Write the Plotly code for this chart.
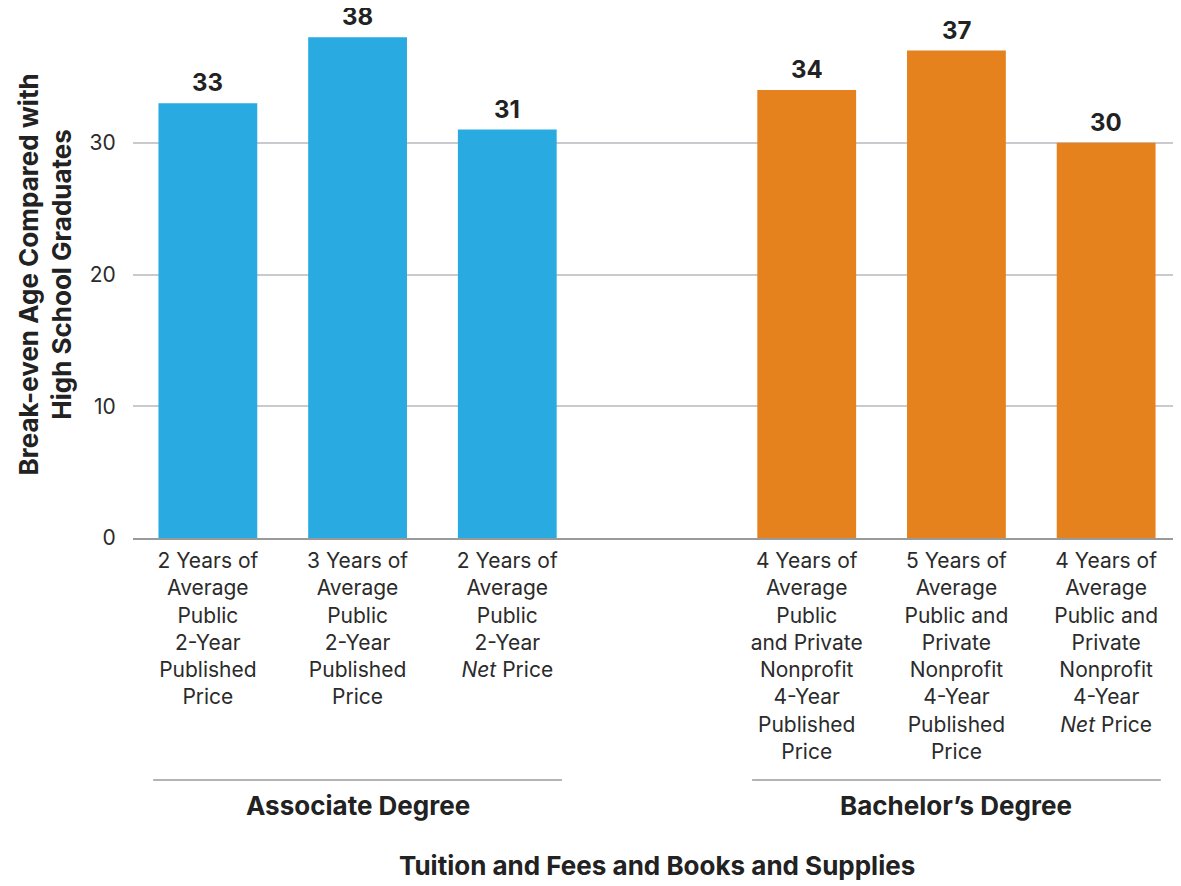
import plotly.graph_objects as go

# ---- data ----
assoc_categories = [
    "2 Years of<br>Average<br>Public<br>2-Year<br>Published<br>Price",
    "3 Years of<br>Average<br>Public<br>2-Year<br>Published<br>Price",
    "2 Years of<br>Average<br>Public<br>2-Year<br><i>Net</i> Price",
]
assoc_values = [33, 38, 31]

bach_categories = [
    "4 Years of<br>Average<br>Public<br>and Private<br>Nonprofit<br>4-Year<br>Published<br>Price",
    "5 Years of<br>Average<br>Public and<br>Private<br>Nonprofit<br>4-Year<br>Published<br>Price",
    "4 Years of<br>Average<br>Public and<br>Private<br>Nonprofit<br>4-Year<br><i>Net</i> Price",
]
bach_values = [34, 37, 30]

group_names = ["Associate Degree", "Bachelor’s Degree"]
spacer = " "
y_tick_values = [0, 10, 20, 30]
y_title = "Break-even Age Compared with<br>High School Graduates"
x_title = "Tuition and Fees and Books and Supplies"

# ---- style ----
FONT = "Inter"
BLUE = "#29ABE2"
ORANGE = "#E6821E"
TEXT = "#2b2b2b"

category_order = assoc_categories + [spacer] + bach_categories

fig = go.Figure()
fig.add_trace(go.Bar(x=assoc_categories, y=assoc_values, marker=dict(color=BLUE, line=dict(width=0)),
                     hoverinfo="skip", showlegend=False))
fig.add_trace(go.Bar(x=bach_categories, y=bach_values, marker=dict(color=ORANGE, line=dict(width=0)),
                     hoverinfo="skip", showlegend=False))

# value labels
for cats, vals in ((assoc_categories, assoc_values), (bach_categories, bach_values)):
    for c, v in zip(cats, vals):
        fig.add_annotation(x=c, y=v, text=f"<b>{v}</b>", showarrow=False, yanchor="bottom",
                           yshift=4, font=dict(family=FONT, size=24, color="#222222"))

# group underline + labels
pad = 0.135
groups = [(assoc_categories, group_names[0]), (bach_categories, group_names[1])]
for cats, name in groups:
    i0 = category_order.index(cats[0])
    i1 = category_order.index(cats[-1])
    fig.add_shape(type="line", xref="x", yref="paper", ysizemode="pixel", yanchor=0,
                  x0=i0 - 0.5 + pad, x1=i1 + 0.5 - pad, y0=-242, y1=-242,
                  line=dict(color="#9a9a9a", width=1.5))
    fig.add_annotation(x=(i0 + i1) / 2, y=0, xref="x", yref="paper", yanchor="middle",
                       yshift=-267, text=f"<b>{name}</b>", showarrow=False,
                       font=dict(family=FONT, size=26, color="#222222"))

# x axis title
fig.add_annotation(x=0.5, y=0, xref="paper", yref="paper", yanchor="middle", yshift=-327,
                   text=f"<b>{x_title}</b>", showarrow=False,
                   font=dict(family=FONT, size=26, color="#222222"))

# y axis title
fig.add_annotation(x=0, y=0.5, xref="paper", yref="paper", xanchor="center", yanchor="middle",
                   xshift=-88, text=f"<b>{y_title}</b>", textangle=-90, showarrow=False,
                   font=dict(family=FONT, size=26, color="#222222"))

# page body has an 8px default margin; size the figure so it fills the 1181x886 window
fig.update_layout(
    width=1173, height=878,
    margin=dict(l=125, r=0, t=3, b=348),
    paper_bgcolor="white", plot_bgcolor="white",
    bargap=0.34,
    font=dict(family=FONT, size=21, color=TEXT),
    showlegend=False,
)
fig.update_xaxes(
    type="category", categoryorder="array", categoryarray=category_order,
    range=[-0.5, len(category_order) - 0.5],
    showgrid=False, showline=True, linecolor="#9a9a9a", linewidth=1.5,
    ticks="outside", ticklen=3, tickcolor="rgba(0,0,0,0)",
    tickfont=dict(family=FONT, size=21, color=TEXT), tickangle=0,
    automargin=False, fixedrange=True,
)
fig.update_yaxes(
    range=[0, 40], tickvals=y_tick_values, showgrid=True, gridcolor="#c9c9ce", gridwidth=1.5,
    zeroline=False, showline=False,
    ticks="outside", ticklen=12, tickcolor="rgba(0,0,0,0)",
    tickfont=dict(family=FONT, size=21, color=TEXT),
    automargin=False, fixedrange=True,
)

fig.write_html("out.html")
